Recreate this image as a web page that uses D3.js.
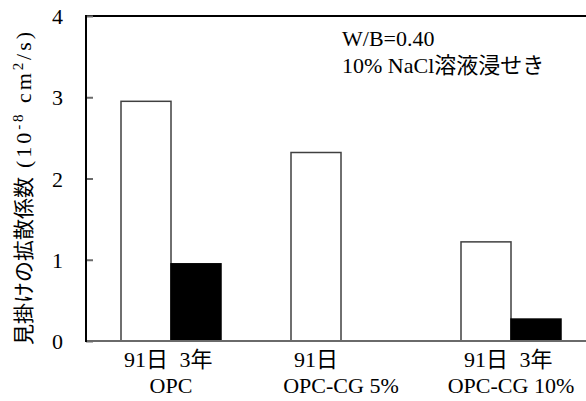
<!DOCTYPE html>
<html>
<head>
<meta charset="utf-8">
<script src="https://d3js.org/d3.v7.min.js"></script>
<style>
body { margin: 0; background: #fff; }
text { font-family: "Liberation Serif", "Times New Roman", "Noto Sans CJK JP", serif; fill: #000; }
</style>
</head>
<body>
<svg id="chart" width="586" height="401"></svg>
<script>
// data
var categories = ["OPC", "OPC-CG 5%", "OPC-CG 10%"];
var series = ["91日", "3年"];
var values91d = [2.95, 2.32, 1.22];
var values3y = [0.95, null, 0.27];
var yTicks = [0, 1, 2, 3, 4];
var noteLines = ["W/B=0.40", "10% NaCl溶液浸せき"];

var svg = d3.select("#chart");

var x0 = d3.scaleBand().domain(categories).range([86, 596]);
var x1 = d3.scaleBand().domain(series).range([0, x0.bandwidth()]).paddingOuter(0.7);
var y = d3.scaleLinear().domain([0, 4]).range([341, 16]);

var rows = categories.map(function(c, i) {
  return { cat: c, vals: [values91d[i], values3y[i]] };
});

// bars
var g = svg.selectAll(".grp").data(rows).enter().append("g")
  .attr("transform", function(d) { return "translate(" + x0(d.cat) + ",0)"; });

g.selectAll("rect")
  .data(function(d) { return series.map(function(s, j) { return { s: s, v: d.vals[j] }; }).filter(function(d) { return d.v != null; }); })
  .enter().append("rect")
  .attr("x", function(d) { return x1(d.s); })
  .attr("y", function(d) { return y(d.v); })
  .attr("width", x1.bandwidth())
  .attr("height", function(d) { return y(0) - y(d.v); })
  .attr("fill", function(d) { return d.s === series[0] ? "#fff" : "#000"; })
  .attr("stroke", function(d) { return d.s === series[0] ? "#404040" : "#000"; })
  .attr("stroke-width", 1.5);

// first label line: one per bar
g.selectAll(".sub")
  .data(function(d) { return series.filter(function(s, j) { return d.vals[j] != null; }); })
  .enter().append("text")
  .attr("x", function(s) { return x1(s) + x1.bandwidth() / 2; })
  .attr("y", 367)
  .attr("text-anchor", "middle")
  .attr("font-size", 22)
  .text(function(s) { return s; });

// second label line: category
g.append("text")
  .attr("x", x0.bandwidth() / 2)
  .attr("y", 393)
  .attr("text-anchor", "middle")
  .attr("font-size", 22)
  .text(function(d) { return d.cat; });

// frame
svg.append("line").attr("x1", 86).attr("x2", 586).attr("y1", y(4)).attr("y2", y(4))
  .attr("stroke", "#000").attr("stroke-width", 2);
svg.append("line").attr("x1", 86).attr("x2", 586).attr("y1", y(0)).attr("y2", y(0))
  .attr("stroke", "#6a6a6a").attr("stroke-width", 2);

// y axis
var yAxis = d3.axisRight(y).tickValues(yTicks).tickSize(7).tickFormat("");
var ya = svg.append("g").attr("transform", "translate(86,0)").call(yAxis);
ya.select(".domain").remove();
ya.selectAll(".tick line").attr("stroke", "#6a6a6a").attr("stroke-width", 2);
svg.append("line").attr("x1", 86).attr("x2", 86).attr("y1", y(4) - 1).attr("y2", y(0) + 1)
  .attr("stroke", "#000").attr("stroke-width", 2);

svg.selectAll(".ylab").data(yTicks).enter().append("text")
  .attr("x", 63)
  .attr("y", function(d) { return y(d) + 8; })
  .attr("text-anchor", "end")
  .attr("font-size", 22)
  .text(function(d) { return d; });

// y title
var yt = svg.append("g").attr("transform", "translate(31,0) rotate(-90)");
yt.append("text")
  .attr("x", -345).attr("y", 0)
  .attr("font-size", 21)
  .text("見掛けの拡散係数");
var unit = yt.append("text")
  .attr("x", -168).attr("y", 0)
  .attr("font-size", 22)
  .attr("textLength", 136)
  .attr("lengthAdjust", "spacing");
unit.append("tspan").text("(10");
unit.append("tspan").attr("dy", -8).attr("font-size", 15).text("-8");
unit.append("tspan").attr("dy", 8).text(" cm");
unit.append("tspan").attr("dy", -8).attr("font-size", 15).text("2");
unit.append("tspan").attr("dy", 8).text("/s)");

// note
svg.selectAll(".note").data(noteLines).enter().append("text")
  .attr("x", 342)
  .attr("y", function(d, i) { return 46 + i * 27; })
  .attr("font-size", 22)
  .text(function(d) { return d; });
</script>
</body>
</html>
